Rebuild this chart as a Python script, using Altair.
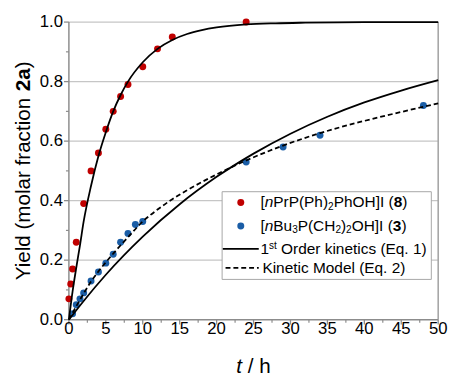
import altair as alt
import pandas as pd

# ---------------- data ----------------
red_t = [0, 0.25, 0.5, 1, 2, 3, 4, 5, 6, 7, 8, 10, 12, 14, 24]
red_y = [0.07, 0.12, 0.17, 0.26, 0.39, 0.50, 0.56, 0.64, 0.70, 0.75, 0.79, 0.85, 0.91, 0.95, 1.00]

blue_t = [0.5, 1, 1.5, 2, 3, 4, 5, 6, 7, 8, 9, 10, 24, 29, 34, 48]
blue_y = [0.02, 0.05, 0.07, 0.09, 0.13, 0.16, 0.19, 0.22, 0.26, 0.29, 0.32, 0.33, 0.53, 0.58, 0.62, 0.72]

# first-order curve for compound 8
red_fit_t = [0, 0.5, 1, 1.5, 2, 3, 4, 5, 6, 7, 8, 10, 12, 14, 16, 18, 20, 24, 28, 32, 40, 50]
red_fit_y = [0, 0.095, 0.175, 0.25, 0.33, 0.45, 0.55, 0.63, 0.70, 0.755, 0.80, 0.865, 0.91, 0.94, 0.96,
             0.973, 0.982, 0.992, 0.996, 0.998, 1.0, 1.0]

# first-order curve for compound 3
blue_fit_t = [0, 2, 5, 10, 15, 20, 25, 30, 35, 40, 45, 50]
blue_fit_y = [0, 0.063, 0.151, 0.279, 0.388, 0.48, 0.558, 0.625, 0.682, 0.73, 0.77, 0.805]

# kinetic model curve for compound 3
model_t = [0, 1, 2, 3, 4, 5, 6, 7, 8, 10, 12, 14, 16, 20, 24, 29, 34, 40, 45, 50]
model_y = [0, 0.045, 0.088, 0.128, 0.162, 0.193, 0.222, 0.25, 0.277, 0.33, 0.37, 0.405, 0.435,
           0.488, 0.535, 0.585, 0.627, 0.668, 0.698, 0.727]

x_ticks = [0, 5, 10, 15, 20, 25, 30, 35, 40, 45, 50]
x_labels = ["0", "5", "10", "15", "20", "25", "30", "35", "40", "45", "50"]
y_ticks = [0.0, 0.2, 0.4, 0.6, 0.8, 1.0]
y_labels = ["0.0", "0.2", "0.4", "0.6", "0.8", "1.0"]
x_minor = [2.5, 7.5, 12.5, 17.5, 22.5, 27.5, 32.5, 37.5, 42.5, 47.5]
y_minor = [0.1, 0.3, 0.5, 0.7, 0.9]

RED = "#C00000"
BLUE = "#1A5DA6"
AXIS_GREY = "#8c8c8c"
GRID_GREY = "#c6c6c6"
FONT = "Liberation Sans"

# ---------------- layout ----------------
W, H = 376, 303
X0, X1, Y0, Y1 = 0.0, 50.0, 0.0, 1.0
TICK_FS = 17
TITLE_FS = 21
LEG_FS = 15.7
PT = 50

ARIAL = {' ': 278, '(': 333, ')': 333, '[': 278, ']': 278, '.': 278, '/': 278, 'a': 556, 'c': 500,
         'd': 556, 'e': 556, 'f': 278, 'h': 556, 'i': 222, 'k': 500, 'l': 222, 'm': 833, 'n': 556,
         'o': 556, 'q': 556, 'r': 333, 's': 500, 't': 278, 'u': 556, 'B': 667, 'C': 722, 'E': 667,
         'H': 722, 'I': 278, 'K': 667, 'M': 833, 'O': 778, 'P': 667, 'Y': 667}


def tw(s, size):
    return sum(556 if c.isdigit() else ARIAL.get(c, 556) for c in s) / 1000 * size


def to_t(px):  # view pixel -> data units, so text layers share the chart scales
    return X0 + px / W * (X1 - X0)


def to_y(py):
    return Y1 - py / H * (Y1 - Y0)


segs = []


def add_row(x0, y0, parts, base):
    x = x0
    for text, kind in parts:
        if kind in ("sub", "sup"):
            size = base * 0.65
            dy = 4.5 if kind == "sub" else -3
            style = "n"
        else:
            size, dy, style = base, 0, kind
        lead = len(text) - len(text.lstrip(" "))
        x += tw(" " * lead, size)
        body = text.strip(" ")
        segs.append(dict(t=to_t(x), y=to_y(y0 + dy), text=body, size=size, style=style, angle=0))
        x += tw(text.lstrip(" "), size)


# legend rows
add_row(195, 183.7, [("[", "n"), ("n", "i"), ("PrP(Ph)", "n"), ("2", "sub"), ("PhOH]I (", "n"),
                     ("8", "b"), (")", "n")], LEG_FS)
add_row(195, 207.7, [("[", "n"), ("n", "i"), ("Bu", "n"), ("3", "sub"), ("P(CH", "n"), ("2", "sub"),
                     (")", "n"), ("2", "sub"), ("OH]I (", "n"), ("3", "b"), (")", "n")], LEG_FS)
add_row(195, 231, [("1", "n"), ("st", "sup"), (" Order kinetics (Eq. 1)", "n")], LEG_FS)
add_row(197, 250.7, [("Kinetic Model (Eq. 2)", "n")], LEG_FS)

# x title  "t / h"
xt_w = tw("t / h", TITLE_FS)
add_row(W / 2 - xt_w / 2, 351, [("t", "i"), (" / h", "n")], TITLE_FS)

# y title (rotated, reads bottom to top)
yparts = [("Yield (molar fraction ", "n"), ("2a", "b"), (")", "n")]
ytot = sum(tw(t, TITLE_FS) for t, _ in yparts)
ycur = H / 2 + ytot / 2
for text, kind in yparts:
    segs.append(dict(t=to_t(-46), y=to_y(ycur), text=text.strip(" "), size=TITLE_FS, style=kind, angle=270))
    ycur -= tw(text, TITLE_FS)

seg_df = pd.DataFrame(segs)

# ---------------- chart ----------------
xs = alt.Scale(domain=[X0, X1], nice=False, zero=False)
ys = alt.Scale(domain=[Y0, Y1], nice=False, zero=False)


def X(field):
    return alt.X(field, scale=xs, axis=None)


def Y(field):
    return alt.Y(field, scale=ys, axis=None)


dummy = pd.DataFrame({"a": [0]})

# --- axes drawn with marks ---
grid = alt.Chart(pd.DataFrame({"v": y_ticks[1:]})).mark_rule(color=GRID_GREY, strokeWidth=1.2).encode(
    y=Y("v:Q"), x=alt.value(0), x2=alt.value(W))
y_major = alt.Chart(pd.DataFrame({"v": y_ticks})).mark_rule(color=AXIS_GREY, strokeWidth=1.3).encode(
    y=Y("v:Q"), x=alt.value(-5), x2=alt.value(0))
y_minor_r = alt.Chart(pd.DataFrame({"v": y_minor})).mark_rule(color=AXIS_GREY, strokeWidth=1.2).encode(
    y=Y("v:Q"), x=alt.value(-3), x2=alt.value(0))
x_major = alt.Chart(pd.DataFrame({"v": x_ticks})).mark_rule(color=AXIS_GREY, strokeWidth=1.3).encode(
    x=X("v:Q"), y=alt.value(H), y2=alt.value(H + 5))
x_minor_r = alt.Chart(pd.DataFrame({"v": x_minor})).mark_rule(color=AXIS_GREY, strokeWidth=1.2).encode(
    x=X("v:Q"), y=alt.value(H), y2=alt.value(H + 3))
y_domain = alt.Chart(dummy).mark_rule(color=AXIS_GREY, strokeWidth=1.5).encode(
    x=alt.value(0), y=alt.value(0), y2=alt.value(H + 0.7))
x_domain = alt.Chart(dummy).mark_rule(color=AXIS_GREY, strokeWidth=1.5).encode(
    y=alt.value(H), x=alt.value(-0.7), x2=alt.value(W))
right_border = alt.Chart(dummy).mark_rule(color="#a6a6a6", strokeWidth=1.6).encode(
    x=alt.value(W), y=alt.value(0), y2=alt.value(H))
y_lab = alt.Chart(pd.DataFrame({"v": y_ticks, "lab": y_labels})).mark_text(
    align="right", baseline="middle", font=FONT, fontSize=TICK_FS, color="black").encode(
    y=Y("v:Q"), x=alt.value(-6), text="lab:N")
x_lab = alt.Chart(pd.DataFrame({"v": x_ticks, "lab": x_labels})).mark_text(
    align="center", baseline="top", font=FONT, fontSize=TICK_FS, color="black").encode(
    x=X("v:Q"), y=alt.value(H + 2), text="lab:N")

# --- data ---
pts_red = alt.Chart(pd.DataFrame({"t": red_t, "y": red_y})).mark_circle(
    size=PT, color=RED, opacity=1).encode(x=X("t:Q"), y=Y("y:Q"))
pts_blue = alt.Chart(pd.DataFrame({"t": blue_t, "y": blue_y})).mark_circle(
    size=PT, color=BLUE, opacity=1).encode(x=X("t:Q"), y=Y("y:Q"))


def curve(ts, vs, dash=None):
    kw = dict(color="black", strokeWidth=1.8, interpolate="monotone")
    if dash:
        kw["strokeDash"] = dash
    return alt.Chart(pd.DataFrame({"t": ts, "y": vs})).mark_line(**kw).encode(
        x=X("t:Q"), y=Y("y:Q"))


c_red = curve(red_fit_t, red_fit_y)
c_blue = curve(blue_fit_t, blue_fit_y)
c_model = curve(model_t, model_y, [5, 3])

# --- legend ---
leg_box = alt.Chart(dummy).mark_rect(fill="white", stroke="#a6a6a6", strokeWidth=1).encode(
    x=alt.value(156), x2=alt.value(369), y=alt.value(172.7), y2=alt.value(262))
leg_red = alt.Chart(dummy).mark_circle(size=PT, color=RED, opacity=1).encode(
    x=alt.value(175), y=alt.value(183.7))
leg_blue = alt.Chart(dummy).mark_circle(size=PT, color=BLUE, opacity=1).encode(
    x=alt.value(175), y=alt.value(207.7))
leg_line = alt.Chart(dummy).mark_rule(color="black", strokeWidth=1.8).encode(
    x=alt.value(156.7), x2=alt.value(193.3), y=alt.value(231))
leg_dash = alt.Chart(dummy).mark_rule(color="black", strokeWidth=1.8, strokeDash=[5, 3]).encode(
    x=alt.value(159.5), x2=alt.value(193.3), y=alt.value(250.3))

text_layers = []
for (style, angle), sub in seg_df.groupby(["style", "angle"]):
    kw = dict(align="left", baseline="middle", font=FONT, color="black")
    if angle:
        kw["angle"] = int(angle)
    if style == "i":
        kw["fontStyle"] = "italic"
    if style == "b":
        kw["fontWeight"] = "bold"
    text_layers.append(
        alt.Chart(sub.reset_index(drop=True)).mark_text(**kw).encode(
            x=X("t:Q"), y=Y("y:Q"), text="text:N",
            size=alt.Size("size:Q", scale=None, legend=None),
        )
    )

chart = alt.layer(
    grid, right_border, y_minor_r, x_minor_r, y_major, x_major, y_domain, x_domain, y_lab, x_lab,
    pts_red, pts_blue, c_red, c_blue, c_model,
    leg_box, leg_red, leg_blue, leg_line, leg_dash, *text_layers
).properties(
    width=W, height=H,
    autosize=alt.AutoSizeParams(type="none"),
    padding={"left": 62, "top": 11, "right": 11, "bottom": 54},
    background="white",
).configure_view(strokeWidth=0)

chart.save("out.html", embed_options={"renderer": "svg", "actions": False})
